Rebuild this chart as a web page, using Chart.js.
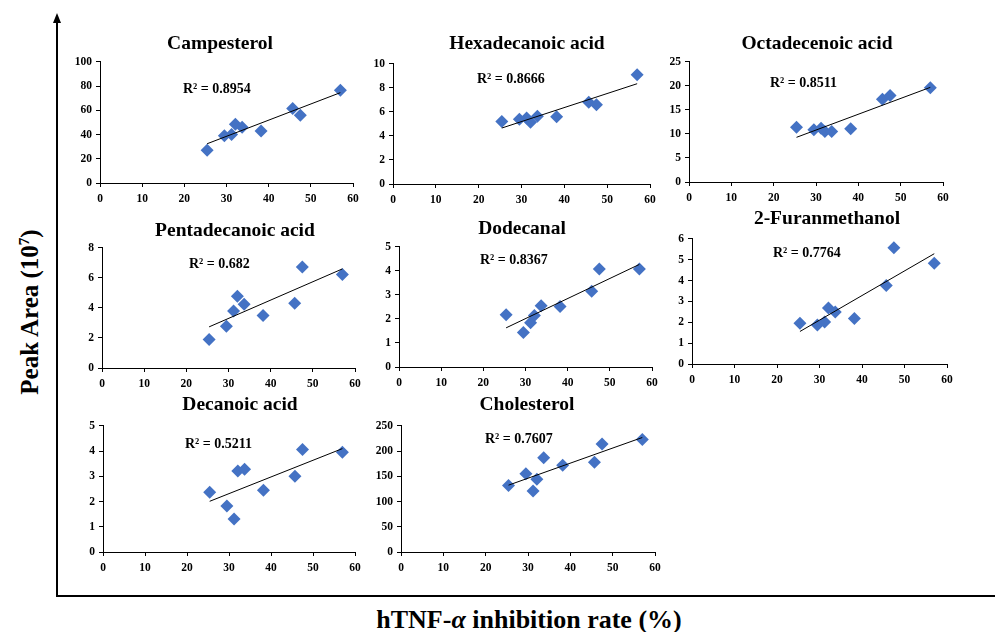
<!DOCTYPE html>
<html>
<head>
<meta charset="utf-8">
<script src="https://cdn.jsdelivr.net/npm/chart.js@4.4.0/dist/chart.umd.min.js"></script>
<style>
  body { margin: 0; background: #fff; }
  #page { position: relative; width: 995px; height: 632px; overflow: hidden; font-family: 'Liberation Serif', serif; }
  canvas { position: absolute; }
  .ttl { position: absolute; font-weight: bold; font-size: 19.5px; transform: translate(-50%, -50%); white-space: nowrap; }
  .r2 { position: absolute; font-weight: bold; font-size: 14px; transform: translateY(-50%); white-space: nowrap; }
  #ylab { position: absolute; left: 30px; top: 312px; transform: translate(-50%, -50%) rotate(-90deg); font-weight: bold; font-size: 25px; white-space: nowrap; }
  #xlab { position: absolute; left: 529px; top: 620px; transform: translate(-50%, -50%); font-weight: bold; font-size: 26px; white-space: nowrap; }
</style>
</head>
<body>
<div id="page">
  <svg width="995" height="632" style="position:absolute;left:0;top:0">
    <line x1="57" y1="22" x2="57" y2="596" stroke="#000" stroke-width="2"/>
    <line x1="56" y1="596" x2="995" y2="596" stroke="#000" stroke-width="2"/>
    <polygon points="57,13 53,23 61,23" fill="#000"/>
  </svg>
  <div id="ylab">Peak Area (10<sup style="font-size:15px">7</sup>)</div>
  <div id="xlab">hTNF-<i>α</i> inhibition rate (%)</div>
</div>
<script>
// hTNF-alpha inhibition rate (%) of the nine samples (shared x values)
const inhibition = [25.4, 29.5, 31.2, 32.1, 33.7, 38.2, 45.7, 47.5, 57.0];

const compounds = ['Campesterol', 'Hexadecanoic acid', 'Octadecenoic acid', 'Pentadecanoic acid',
                   'Dodecanal', '2-Furanmethanol', 'Decanoic acid', 'Cholesterol'];

// peak areas (10^7)
const campesterol  = [27, 39, 40, 48.5, 46, 43, 61.5, 56, 76.5];
const hexadecanoic = [5.2, 5.4, 5.5, 5.15, 5.65, 5.6, 6.8, 6.6, 9.1];
const octadecenoic = [11.4, 10.9, 11.2, 10.5, 10.5, 11.1, 17.2, 18.0, 19.6];
const pentadecanoic = [1.9, 2.78, 3.8, 4.78, 4.25, 3.5, 4.32, 6.72, 6.22];
const dodecanal    = [2.18, 1.44, 1.84, 2.14, 2.55, 2.52, 3.15, 4.08, 4.08];
const furanmethanol = [1.96, 1.87, 2.02, 2.69, 2.49, 2.18, 3.76, 5.58, 4.83];
const decanoic     = [2.37, 1.82, 1.31, 3.21, 3.28, 2.45, 3.0, 4.06, 3.96];
const cholesterol  = [132, 155, 121, 144, 187, 172, 178, 214, 223];
const seriesList = [campesterol, hexadecanoic, octadecenoic, pentadecanoic, dodecanal, furanmethanol, decanoic, cholesterol];

// linear trendline ends (read at first and last x)
const trendStart = [32.4, 4.66, 9.3, 2.74, 1.63, 1.56, 2.01, 132.5];
const trendEnd   = [74.6, 8.35, 19.7, 6.6, 4.27, 5.29, 4.1, 227];
const r2Labels   = ['0.8954', '0.8666', '0.8511', '0.682', '0.8367', '0.7764', '0.5211', '0.7607'];

// y axis ranges
const yMax  = [100, 10, 25, 8, 5, 6, 5, 250];
const yStep = [20, 2, 5, 2, 1, 1, 1, 50];
const xTicks = { min: 0, max: 60, step: 10 };

// layout: plot box [left, top, right, bottom], title centre, R2 label position
const boxes = [[100, 59, 353, 183], [393, 61, 650, 184], [689, 59, 943, 182],
               [102, 245, 355, 368], [399, 244, 652, 367], [692, 236, 947, 364],
               [103, 423, 355, 552], [401, 423, 655, 552]];
const titlePos = [[220, 43], [527, 43], [817, 43], [235, 230], [522, 228], [827, 218], [240, 404], [527, 404]];
const r2Pos = [[183, 89], [477, 79], [770, 83], [189, 264], [480, 260], [773, 253], [185, 444], [485, 439]];

const PAD_L = 40, PAD_B = 26, PAD_T = 8, PAD_R = 12;
const page = document.getElementById('page');
const tickFont = { family: "'Liberation Serif', serif", size: 11.5, weight: 'bold' };

compounds.forEach((name, i) => {
  const b = boxes[i];
  const cv = document.createElement('canvas');
  const w = b[2] - b[0] + PAD_L + PAD_R, h = b[3] - b[1] + PAD_T + PAD_B;
  cv.width = w; cv.height = h;
  cv.style.left = (b[0] - PAD_L) + 'px';
  cv.style.top = (b[1] - PAD_T) + 'px';
  page.appendChild(cv);

  const t = document.createElement('div');
  t.className = 'ttl'; t.textContent = name;
  t.style.left = titlePos[i][0] + 'px'; t.style.top = titlePos[i][1] + 'px';
  page.appendChild(t);

  const r = document.createElement('div');
  r.className = 'r2'; r.innerHTML = 'R² = ' + r2Labels[i];
  r.style.left = r2Pos[i][0] + 'px'; r.style.top = r2Pos[i][1] + 'px';
  page.appendChild(r);

  const pts = inhibition.map((x, k) => ({ x: x, y: seriesList[i][k] }));
  const first = inhibition[0], last = inhibition[inhibition.length - 1];

  new Chart(cv.getContext('2d'), {
    type: 'scatter',
    data: {
      datasets: [
        {
          type: 'line',
          data: [{ x: first, y: trendStart[i] }, { x: last, y: trendEnd[i] }],
          borderColor: '#000',
          borderWidth: 1,
          pointRadius: 0,
          fill: false
        },
        {
          data: pts,
          pointStyle: 'rectRot',
          pointRadius: 6.5,
          backgroundColor: '#4472C4',
          borderColor: '#4472C4',
          borderWidth: 0
        }
      ]
    },
    options: {
      responsive: false,
      animation: false,
      layout: { padding: { top: PAD_T, right: PAD_R, left: 0, bottom: 0 }, autoPadding: false },
      plugins: { legend: { display: false }, tooltip: { enabled: false } },
      scales: {
        x: {
          type: 'linear',
          min: xTicks.min, max: xTicks.max,
          ticks: { stepSize: xTicks.step, color: '#000', font: tickFont, padding: 5, maxRotation: 0 },
          grid: { drawOnChartArea: false, drawTicks: true, tickLength: 4, color: '#000' },
          border: { display: true, color: '#000', width: 1 },
          afterFit: s => { s.height = PAD_B; }
        },
        y: {
          min: 0, max: yMax[i],
          ticks: { stepSize: yStep[i], color: '#000', font: tickFont, padding: 4 },
          grid: { drawOnChartArea: false, drawTicks: true, tickLength: 4, color: '#000' },
          border: { display: true, color: '#000', width: 1 },
          afterFit: s => { s.width = PAD_L; }
        }
      }
    }
  });
});
</script>
</body>
</html>
